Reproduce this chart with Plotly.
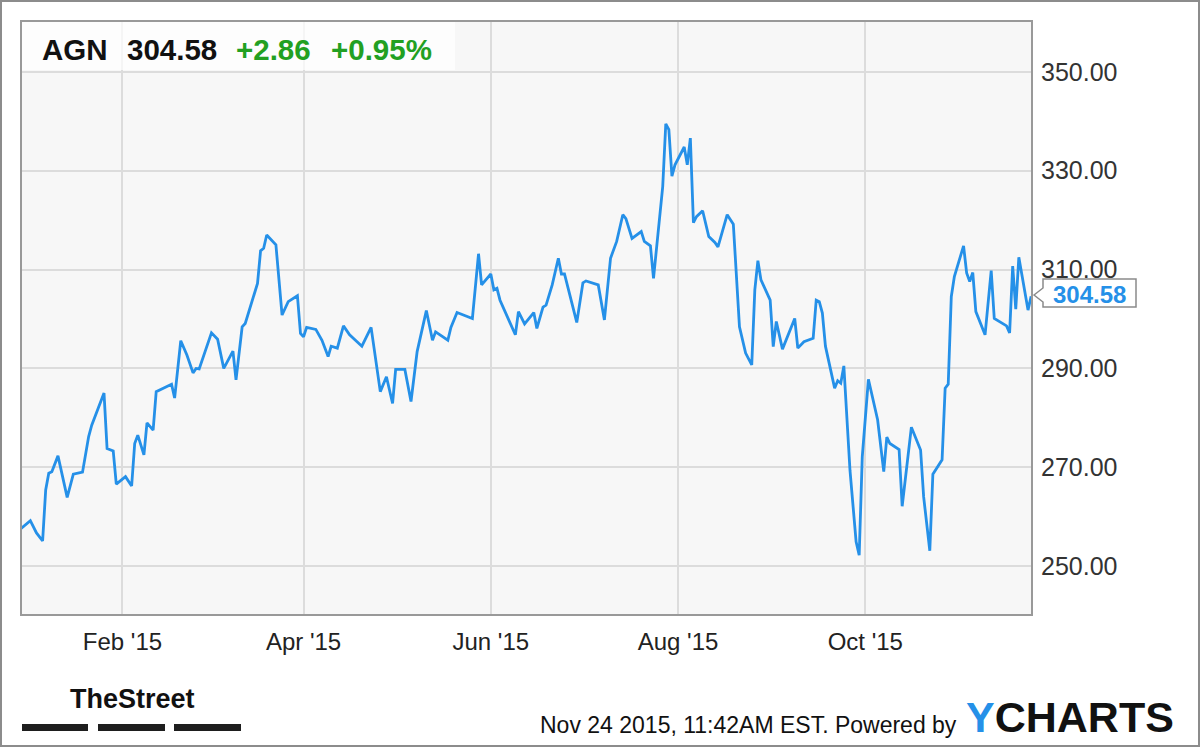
import plotly.graph_objects as go

# AGN daily close (approx.)
dates = [
    "2014-12-30", "2015-01-02", "2015-01-04", "2015-01-06", "2015-01-07", "2015-01-08",
    "2015-01-09", "2015-01-11", "2015-01-14", "2015-01-16", "2015-01-19", "2015-01-21",
    "2015-01-22", "2015-01-26", "2015-01-27", "2015-01-29", "2015-01-30", "2015-02-02",
    "2015-02-04", "2015-02-05", "2015-02-06", "2015-02-08", "2015-02-09", "2015-02-11",
    "2015-02-12", "2015-02-17", "2015-02-18", "2015-02-20", "2015-02-22", "2015-02-24",
    "2015-02-25", "2015-02-26", "2015-03-02", "2015-03-04", "2015-03-06", "2015-03-09",
    "2015-03-10", "2015-03-12", "2015-03-13", "2015-03-17", "2015-03-18", "2015-03-19",
    "2015-03-20", "2015-03-23", "2015-03-25", "2015-03-27", "2015-03-30", "2015-03-31",
    "2015-04-01", "2015-04-02", "2015-04-05", "2015-04-07", "2015-04-09", "2015-04-10",
    "2015-04-12", "2015-04-14", "2015-04-16", "2015-04-20", "2015-04-23", "2015-04-26",
    "2015-04-28", "2015-04-30", "2015-05-01", "2015-05-04", "2015-05-06", "2015-05-08",
    "2015-05-11", "2015-05-13", "2015-05-14", "2015-05-18", "2015-05-19", "2015-05-21",
    "2015-05-26", "2015-05-28", "2015-05-29", "2015-06-01", "2015-06-02", "2015-06-03",
    "2015-06-04", "2015-06-09", "2015-06-10", "2015-06-12", "2015-06-15", "2015-06-16",
    "2015-06-18", "2015-06-19", "2015-06-21", "2015-06-23", "2015-06-24", "2015-06-25",
    "2015-06-29", "2015-07-01", "2015-07-02", "2015-07-06", "2015-07-08", "2015-07-10",
    "2015-07-12", "2015-07-14", "2015-07-15", "2015-07-17", "2015-07-20", "2015-07-21",
    "2015-07-23", "2015-07-24", "2015-07-27", "2015-07-28", "2015-07-29", "2015-07-30",
    "2015-07-31", "2015-08-03", "2015-08-04", "2015-08-05", "2015-08-06", "2015-08-07",
    "2015-08-09", "2015-08-11", "2015-08-13", "2015-08-14", "2015-08-17", "2015-08-19",
    "2015-08-21", "2015-08-23", "2015-08-25", "2015-08-26", "2015-08-27", "2015-08-28",
    "2015-08-31", "2015-09-01", "2015-09-02", "2015-09-04", "2015-09-08", "2015-09-09",
    "2015-09-11", "2015-09-14", "2015-09-15", "2015-09-16", "2015-09-17", "2015-09-18",
    "2015-09-21", "2015-09-22", "2015-09-23", "2015-09-24", "2015-09-26", "2015-09-28",
    "2015-09-29", "2015-09-30", "2015-10-02", "2015-10-05", "2015-10-07", "2015-10-08",
    "2015-10-09", "2015-10-12", "2015-10-13", "2015-10-16", "2015-10-19", "2015-10-20",
    "2015-10-22", "2015-10-23", "2015-10-26", "2015-10-27", "2015-10-28", "2015-10-29",
    "2015-10-30", "2015-11-02", "2015-11-03", "2015-11-04", "2015-11-05", "2015-11-06",
    "2015-11-09", "2015-11-11", "2015-11-12", "2015-11-16", "2015-11-17", "2015-11-18",
    "2015-11-19", "2015-11-20", "2015-11-23", "2015-11-24",
]
prices = [
    257.6, 259.2, 256.7, 255.1, 265.4, 268.8,
    269.1, 272.3, 263.9, 268.6, 269.0, 276.2,
    278.5, 285.0, 273.8, 273.3, 266.6, 268.1,
    266.2, 274.8, 276.5, 272.5, 279.0, 277.5,
    285.3, 286.8, 284.0, 295.6, 292.7, 289.1,
    290.0, 289.9, 297.2, 295.9, 290.0, 293.5,
    287.7, 298.4, 299.1, 307.2, 313.8, 314.3,
    317.0, 315.0, 300.8, 303.5, 304.7, 297.1,
    296.4, 298.3, 297.9, 295.7, 292.4, 294.5,
    294.1, 298.6, 296.8, 294.5, 298.3, 285.3,
    288.3, 282.9, 289.8, 289.8, 283.3, 293.4,
    301.7, 295.7, 297.4, 295.7, 298.3, 301.3,
    300.1, 313.2, 306.9, 309.1, 305.9, 306.2,
    303.8, 296.8, 301.5, 299.0, 301.3, 298.1,
    302.4, 302.8, 306.9, 312.3, 309.1, 309.1,
    299.3, 307.3, 307.7, 306.9, 299.8, 312.3,
    315.7, 321.1, 320.3, 316.3, 317.7, 315.7,
    314.8, 308.2, 326.8, 339.5, 338.3, 328.9,
    331.2, 334.8, 331.2, 336.6, 319.5, 320.7,
    321.9, 316.7, 315.5, 314.6, 321.1, 319.2,
    298.4, 293.1, 290.7, 305.9, 311.8, 307.9,
    303.8, 294.4, 299.5, 293.9, 300.1, 294.1,
    295.4, 296.1, 303.8, 303.5, 301.2, 294.5,
    286.0, 287.5, 287.0, 290.5, 269.4, 254.9,
    252.2, 272.1, 287.8, 279.6, 269.1, 276.1,
    274.8, 273.6, 262.1, 278.1, 273.5, 264.0,
    253.1, 268.6, 271.5, 286.0, 286.8, 304.5,
    308.6, 314.8, 309.3, 307.6, 309.4, 301.5,
    296.8, 309.8, 300.1, 298.6, 297.2, 310.7,
    302.0, 312.5, 301.8, 304.58,
]

ticker = "AGN"
last_price = "304.58"
change = "+2.86"
change_pct = "+0.95%"
stamp = "Nov 24 2015, 11:42AM EST. Powered by"

BLUE = "#2590e8"
GREEN = "#22a022"
FONT = "Liberation Sans, Arial, sans-serif"

# plot area in pixels
L, R, T, B = 21, 1032, 21, 615


def px(x):
    return (x - L) / (R - L)


def py(y):
    return (B - y) / (B - T)


fig = go.Figure(
    go.Scatter(
        x=dates,
        y=prices,
        mode="lines",
        line=dict(color=BLUE, width=2.8),
        hoverinfo="skip",
    )
)

fig.update_layout(
    width=1200,
    height=747,
    margin=dict(l=L, r=1200 - R, t=T, b=747 - B),
    paper_bgcolor="white",
    plot_bgcolor="#f7f7f7",
    showlegend=False,
    font=dict(family=FONT, color="#333333"),
    xaxis=dict(
        range=["2014-12-29 23:00", "2015-11-24 07:00"],
        tick0="2015-02-01",
        dtick="M2",
        tickformat="%b '%y",
        tickfont=dict(size=24, color="#222222"),
        ticks="outside",
        ticklen=5,
        tickcolor="rgba(0,0,0,0)",
        showgrid=True,
        gridcolor="#dcdcdc",
        gridwidth=1.5,
        zeroline=False,
        showline=False,
    ),
    yaxis=dict(
        side="right",
        range=[240.1, 360.3],
        tick0=250,
        dtick=20,
        tickformat=".2f",
        tickfont=dict(size=25, color="#333333"),
        ticks="outside",
        ticklen=3,
        tickcolor="rgba(0,0,0,0)",
        showgrid=True,
        gridcolor="#dcdcdc",
        gridwidth=1.5,
        zeroline=False,
        showline=False,
    ),
)

shapes = [
    # header strip
    dict(type="rect", xref="paper", yref="paper", x0=px(21), x1=px(455), y0=py(70), y1=py(21),
         fillcolor="rgba(255,255,255,0.7)", line=dict(width=0), layer="above"),
    # plot frame
    dict(type="rect", xref="paper", yref="paper", x0=0, x1=1, y0=0, y1=1,
         line=dict(color="#999999", width=2), layer="above"),
    # outer frame
    dict(type="rect", xref="paper", yref="paper", x0=px(1), x1=px(1199), y0=py(746), y1=py(1),
         line=dict(color="#8c8c8c", width=2), layer="above"),
    # price label bubble
    dict(type="path", xref="paper", yref="paper",
         path="M {} {} L {} {} L {} {} L {} {} L {} {} L {} {} L {} {} Z".format(
             px(1034), py(295), px(1043), py(288), px(1043), py(279), px(1136), py(279),
             px(1136), py(307), px(1043), py(307), px(1043), py(302)),
         fillcolor="white", line=dict(color="#8a8a8a", width=1.5), layer="above"),
]
# TheStreet bars
for x0, x1 in [(22, 88), (98, 165), (174, 241)]:
    shapes.append(dict(type="rect", xref="paper", yref="paper", x0=px(x0), x1=px(x1),
                       y0=py(731), y1=py(724), fillcolor="#1e1e1e", line=dict(width=0)))
fig.update_layout(shapes=shapes)


def note(text, x, y, size, color="#111111", bold=False, anchor="center", family=FONT):
    fig.add_annotation(
        text="<b>" + text + "</b>" if bold else text,
        xref="paper", yref="paper", x=px(x), y=py(y),
        xanchor=anchor, yanchor="middle", showarrow=False,
        font=dict(size=size, color=color, family=family),
    )


note(ticker, 75, 49, 29.5, "#111111", bold=True)
note(last_price, 172, 49, 29.5, "#111111", bold=True)
note(change, 273.5, 49, 29.5, GREEN, bold=True)
note(change_pct, 381, 49, 29.5, GREEN, bold=True)
note(last_price, 1089.5, 294, 24, BLUE, bold=True)
note("TheStreet", 132.5, 699, 27, "#111111", bold=True)
note(stamp, 959, 725, 23, "#111111", anchor="right")
note("<span style='color:%s'>Y</span>CHARTS" % BLUE, 964, 717, 43, "#111111",
     bold=True, anchor="left")

# page has a default 8px body margin; drop it so the figure sits at 0,0
fig.write_html(
    "out.html",
    config={"displayModeBar": False},
    post_script="document.body.style.margin='0';",
)
